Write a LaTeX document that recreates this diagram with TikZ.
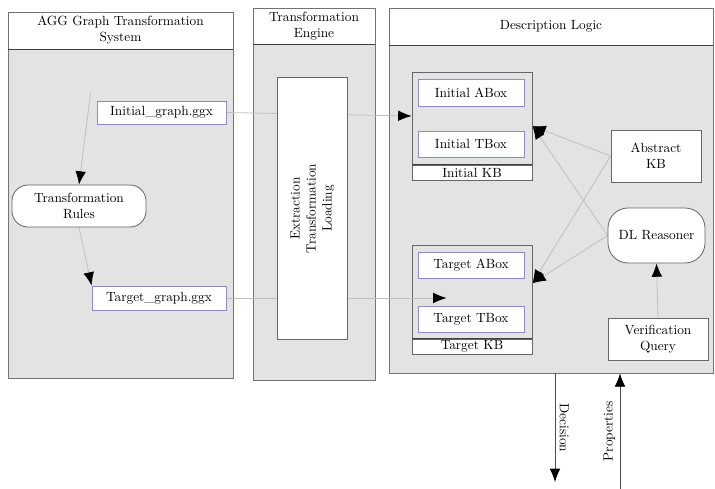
\documentclass[tikz,border=0pt]{standalone}
\usepackage{amsmath}
\usepackage{tikz}
\usetikzlibrary{arrows.meta}
\usetikzlibrary{fit}
\usetikzlibrary{calc}
\usetikzlibrary{positioning}

\pgfdeclarelayer{back}
\pgfdeclarelayer{lines}
\pgfsetlayers{back,lines,main}

\begin{document}
\begin{tikzpicture}[x=0.75pt,y=0.75pt,yscale=-1,xscale=1,
  panel/.style={draw=black!55, fill=black!11, inner sep=0pt, line width=0.6pt},
  head/.style={draw=black!55, fill=white, inner sep=0pt, align=center, line width=0.6pt},
  item/.style={draw=blue!55!black!45, fill=white, inner sep=0pt, line width=0.6pt},
  kb/.style={draw=black!60, fill=black!11, inner sep=0pt, line width=0.7pt},
  strip/.style={draw=black!60, fill=white, inner sep=0pt, line width=0.7pt},
  plain/.style={draw=black!60, fill=white, inner sep=0pt, align=center, line width=0.6pt},
  round/.style={plain, rounded corners=12pt},
  link/.style={draw=black!25, line width=0.6pt, -{Latex[length=10pt,width=8pt,color=black]}},
  outlink/.style={draw=black!70, line width=0.6pt, -{Latex[length=10pt,width=8pt,color=black]}}]
\useasboundingbox (0,0) rectangle (715,489);

%Panels
\begin{pgfonlayer}{back}
\node[panel, fit={(8,12) (233,378)}] (aggp) {};
\node[head, minimum width=168.75pt, minimum height=27.75pt] (aggh) at (120.5,30.5) {AGG Graph Transformation\\System};
\node[panel, fit={(253,8) (375,380)}] (engp) {};
\node[head, minimum width=91.5pt, minimum height=27pt] (engh) at (314,26) {Transformation\\Engine};
\node[panel, fit={(389,8) (713,373)}] (dlp) {};
\node[head, minimum width=243pt, minimum height=27.75pt] (dlh) at (551,26.5) {Description Logic};
\draw[black!75, line width=1pt] (aggh.south west) -- (aggh.south east);
\draw[black!75, line width=1pt] (engh.south west) -- (engh.south east);
\draw[black!75, line width=1pt] (dlh.south west) -- (dlh.south east);
\end{pgfonlayer}

%AGG side
\node[item, minimum width=96.75pt, minimum height=17.25pt] (ig) at (161.5,112.5) {Initial\_graph.ggx};
\node[round, minimum width=100.5pt, minimum height=31.5pt] (tr) at (79,206) {Transformation\\Rules};
\node[item, minimum width=100.5pt, minimum height=18pt] (tg) at (159,298) {Target\_graph.ggx};

%Engine
\node[plain, rotate=90, minimum width=197pt, minimum height=53pt] (etl) at (312.5,208.5) {Extraction\\Transformation\\Loading};

%Knowledge bases
\node[kb, minimum width=90pt, minimum height=81pt] (ikb) at (472,126) {};
\node[strip, minimum width=90pt, minimum height=11.25pt] (ikbl) at (472,172.5) {Initial KB};
\draw[black!75, line width=1.2pt] (ikbl.north west) -- (ikbl.north east);
\node[item, minimum width=79.5pt, minimum height=20.25pt] (iab) at (471,92.5) {Initial ABox};
\node[item, minimum width=79.5pt, minimum height=19.5pt] (itb) at (471,144) {Initial TBox};
\node[kb, minimum width=90pt, minimum height=81.75pt] (tkb) at (472,299.5) {};
\node[strip, minimum width=90pt, minimum height=11.25pt] (tkbl) at (472,346.5) {Target KB};
\draw[black!75, line width=1.2pt] (tkbl.north west) -- (tkbl.north east);
\node[item, minimum width=79.5pt, minimum height=19.5pt] (tab) at (471,265) {Target ABox};
\node[item, minimum width=79.5pt, minimum height=19.5pt] (ttb) at (471,319) {Target TBox};

\node[plain, minimum width=67.5pt, minimum height=39pt] (ak) at (656,156) {Abstract\\KB};
\node[round, rounded corners=15pt, minimum width=72.75pt, minimum height=41.25pt] (dlr) at (656.5,235.5) {DL Reasoner};
\node[plain, minimum width=75pt, minimum height=31.5pt] (vq) at (658,339) {Verification\\Query};

\coordinate (decend) at (555,482);
\coordinate (propstart) at (620,489);

%Connectors
\begin{pgfonlayer}{lines}
\draw[link] ($(ig.north west)+(-6,-8)$) -- (tr.north);
\draw[link] (tr.south) -- (tg.north west);
\draw[link] (ig.east) -- (ikb.west |- 0,116);
\draw[link, -] (tg.east) -- (tkb.west |- tg.east);
\draw[link] (ak.west) -- (ikb.east);
\draw[link] (ak.west) -- (tkb.15);
\draw[link] (dlr.west) -- (ikb.east);
\draw[link] (dlr.west) -- (tkb.15);
\draw[link] (vq.north) -- (dlr.south);
\end{pgfonlayer}
\draw[link] (tkb.west |- tg.east) -- ($(tkb.west |- tg.east)+(35,0)$);
\draw[outlink] (dlp.south -| decend) -- node[rotate=-90, anchor=south] (dectext) {Decision} (decend);
\draw[outlink] (propstart) -- node[rotate=90, anchor=south] (proptext) {Properties} (dlp.south -| propstart);

\end{tikzpicture}
\end{document}
